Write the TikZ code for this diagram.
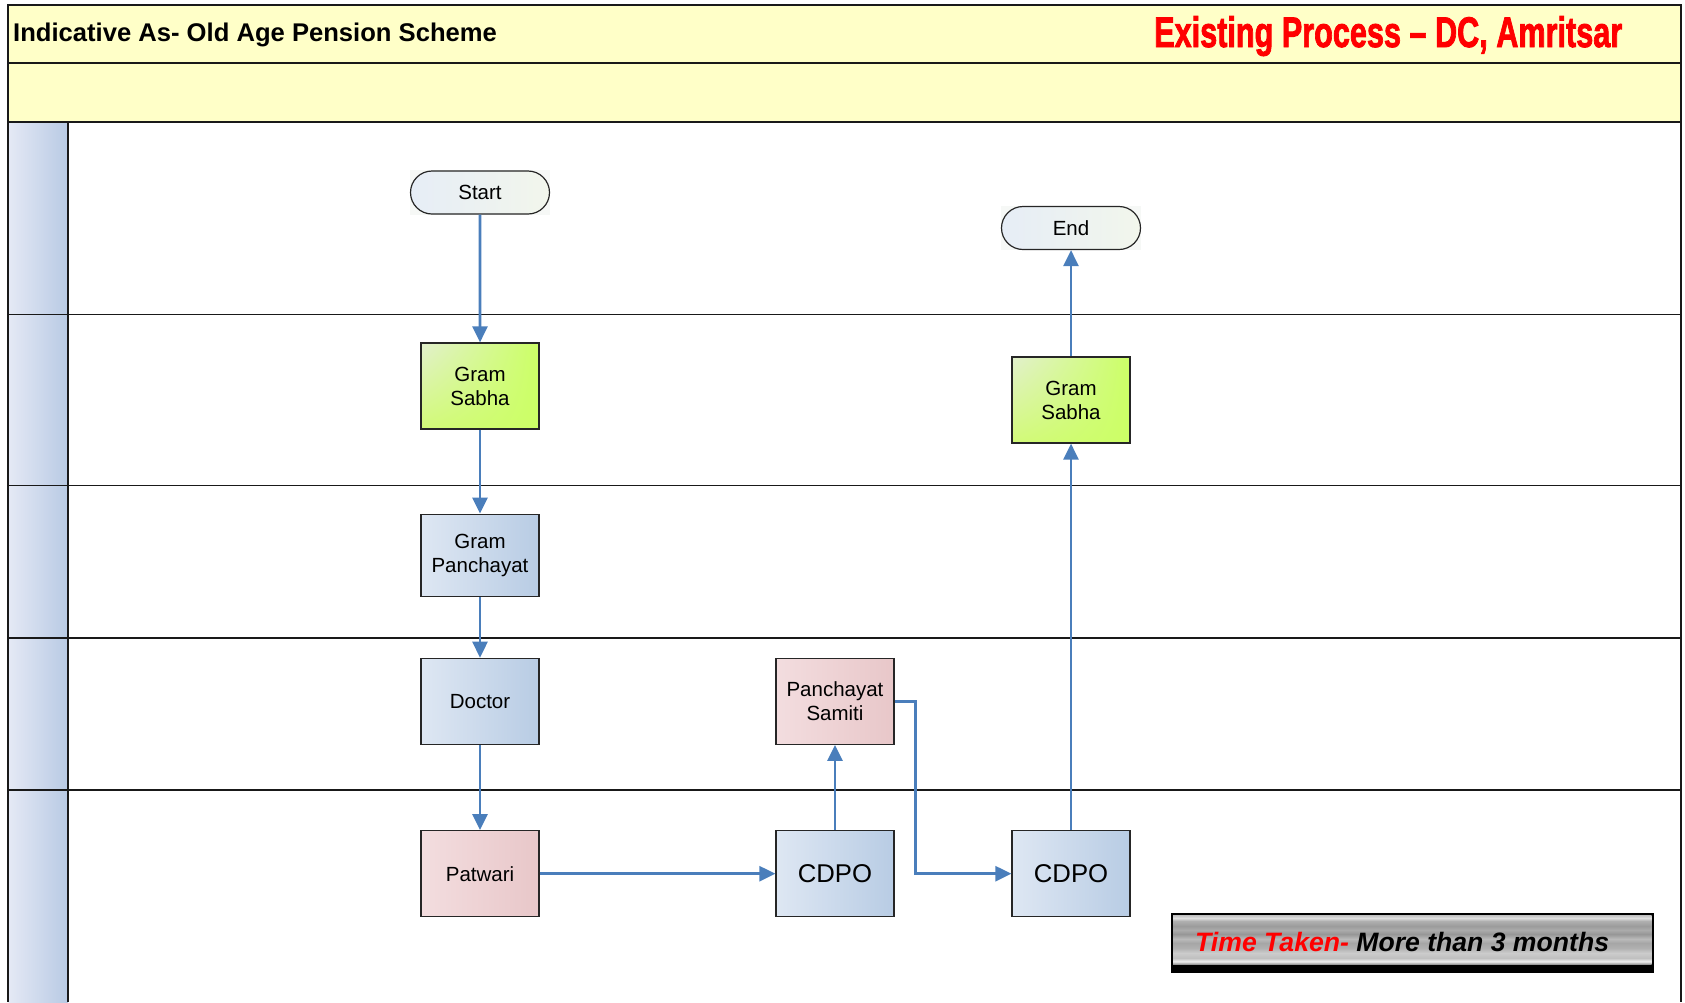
\documentclass[tikz,border=0pt]{standalone}
\usepackage{fontspec}
\setmainfont{Liberation Sans}
\newfontfamily\heavyfont[FakeBold=2.2]{Liberation Sans Bold}
\usetikzlibrary{arrows.meta,shapes.misc,backgrounds,shadings}

\definecolor{hdrfill}{RGB}{255,255,200}
\definecolor{flowblue}{RGB}{74,126,187}
\definecolor{bluelt}{RGB}{222,231,243}
\definecolor{bluedk}{RGB}{184,204,228}
\definecolor{greenlt}{RGB}{226,240,205}
\definecolor{greendk}{RGB}{204,255,102}
\definecolor{greenmd}{RGB}{210,250,120}
\definecolor{pinklt}{RGB}{243,221,223}
\definecolor{pinkdk}{RGB}{232,199,201}
\definecolor{termlt}{RGB}{230,237,246}
\definecolor{termdk}{RGB}{242,246,236}
\definecolor{termbg}{RGB}{246,248,246}
\definecolor{lanelt}{RGB}{229,233,245}
\definecolor{lanedk}{RGB}{184,202,228}

% brushed-metal bands for the time banner (box spans 25bp..75bp)
\pgfdeclareverticalshading{metalbar}{100bp}{
  color(0bp)=(black!45);
  color(25bp)=(black!45);
  color(28bp)=(black!6);
  color(31.6bp)=(black!25);
  color(36.7bp)=(black!20);
  color(41.8bp)=(black!31);
  color(47bp)=(black!35);
  color(51bp)=(black!27);
  color(56.1bp)=(black!41);
  color(60.2bp)=(black!33);
  color(64.3bp)=(black!39);
  color(69.5bp)=(black!31);
  color(72.5bp)=(black!12);
  color(75bp)=(black!22);
  color(100bp)=(black!22)}

\begin{document}
\begin{tikzpicture}[x=1pt,y=-1pt,
  frameline/.style={line width=2pt, draw=black!90},
  laneline/.style={line width=1.5pt, draw=black!90},
  boxtext/.style={font=\fontsize{20.5}{24}\selectfont, align=center, text=black},
  proc/.style={boxtext, rectangle, draw=black!85, line width=1.2pt,
    minimum width=118pt, minimum height=86pt, inner sep=0pt},
  bluebox/.style={proc, left color=bluelt, right color=bluedk},
  greenbox/.style={proc, upper left=greenlt, upper right=greendk,
    lower left=greenmd, lower right=greendk},
  pinkbox/.style={proc, left color=pinklt, right color=pinkdk},
  terminal/.style={boxtext, rounded rectangle, draw=black!85, line width=1.2pt,
    minimum width=139pt, minimum height=43pt, inner sep=0pt,
    left color=termlt, right color=termdk},
  flow/.style={draw=flowblue, line width=2.6pt, -{Triangle[length=16pt,width=15pt]}},
]
\useasboundingbox (0,0) rectangle (1685,1002);

% header band
\fill[hdrfill] (8.3,4.5) rectangle (1681,122);

% lane label column
\foreach \ya/\yb in {122/314.5, 314.5/485.7, 485.7/637.8, 637.8/790, 790/1002}
  \shade[left color=lanelt, right color=lanedk] (8.3,\ya) rectangle (68,\yb);

% lane separators
\foreach \yy in {314.5, 485.7, 637.8, 790}
  \draw[laneline] (8.3,\yy) -- (1681,\yy);
\draw[laneline] (68,122) -- (68,1002);

% outer frame and header rules
\draw[frameline] (8.3,1002) -- (8.3,4.5) -- (1681,4.5) -- (1681,1002);
\draw[frameline] (8.3,63.4) -- (1681,63.4);
\draw[frameline] (8.3,122) -- (1681,122);

% titles
\node[anchor=base west, inner sep=0pt, font=\fontsize{25.6}{30}\selectfont\bfseries]
  (title) at (13,41) {Indicative As- Old Age Pension Scheme};
\node[anchor=base west, inner sep=0pt, text=red]
  (place) at (1154,47) {\resizebox{468pt}{31pt}{\heavyfont Existing Process \textendash{} DC, Amritsar}};

% process nodes
\node[terminal] (start) at (480,192.5) {Start};
\node[greenbox] (gs1) at (480,386) {Gram\\Sabha};
\node[bluebox, minimum height=82pt] (gp) at (480,555.2) {Gram\\Panchayat};
\node[bluebox] (doctor) at (480,701.3) {Doctor};
\node[pinkbox] (patwari) at (480,873.7) {Patwari};
\node[bluebox, font=\fontsize{25.7}{30}\selectfont] (cdpo1) at (835,873.7) {CDPO};
\node[pinkbox] (samiti) at (835,701.3) {Panchayat\\Samiti};
\node[bluebox, font=\fontsize{25.7}{30}\selectfont] (cdpo2) at (1071,873.7) {CDPO};
\node[greenbox] (gs2) at (1071,400) {Gram\\Sabha};
\node[terminal] (end) at (1071,228) {End};

% faint panels behind the terminals
\begin{scope}[on background layer]
  \fill[termbg] (start.west |- start.south) rectangle (start.east |- start.north);
  \fill[termbg] (end.west |- end.south) rectangle (end.east |- end.north);
\end{scope}

% connectors
\coordinate (elbow) at (915.7,873.7);
\draw[flow] (start) -- (gs1);
\draw[flow] (gs1) -- (gp);
\draw[flow] (gp) -- (doctor);
\draw[flow] (doctor) -- (patwari);
\draw[flow] (patwari) -- (cdpo1);
\draw[flow] (cdpo1) -- (samiti);
\draw[flow] (samiti.east) -| (elbow) -- (cdpo2.west);
\draw[flow] (cdpo2) -- (gs2);
\draw[flow] (gs2) -- (end);

% time banner
\fill[black] (1171,912.5) rectangle (1654,973);
\node[rectangle, inner sep=0pt, minimum width=478.7pt, minimum height=48.8pt,
  shading=metalbar] (timebox) at (1412.35,940) {};
\node[anchor=base west, inner sep=0pt, font=\fontsize{26.6}{30}\selectfont\bfseries\itshape]
  (timetext) at (1195,951) {\textcolor{red}{Time Taken-} More than 3 months};
\end{tikzpicture}
\end{document}
